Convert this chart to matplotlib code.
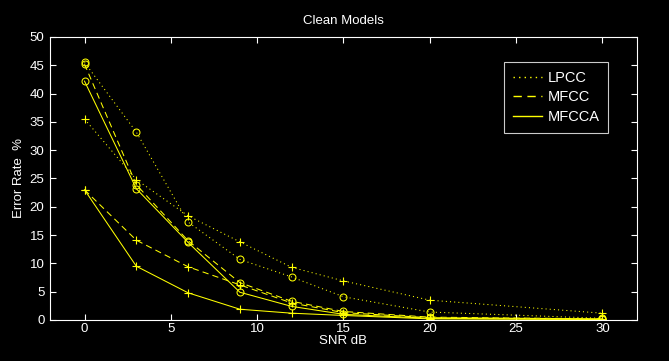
import numpy as np
import matplotlib
matplotlib.use("Agg")
import matplotlib.pyplot as plt
from matplotlib.lines import Line2D

# SNR points and error rates (%)
snr = [0, 3, 6, 9, 12, 15, 20, 30]
lpcc_o = [45.5, 33.2, 17.3, 10.7, 7.6, 4.1, 1.4, 0.3]
lpcc_p = [35.5, 24.8, 18.4, 13.8, 9.3, 6.9, 3.5, 1.2]
mfcc_o = [45.2, 23.9, 14.0, 6.6, 3.3, 1.5, 0.5, 0.2]
mfcc_p = [23.0, 14.1, 9.4, 6.2, 3.0, 1.3, 0.4, 0.2]
mfcca_o = [42.2, 23.2, 13.7, 4.9, 2.4, 1.0, 0.3, 0.1]
mfcca_p = [23.0, 9.5, 4.8, 1.9, 1.2, 0.8, 0.2, 0.1]

names = ["LPCC", "MFCC", "MFCCA"]
xticks = [0, 5, 10, 15, 20, 25, 30]
yticks = [0, 5, 10, 15, 20, 25, 30, 35, 40, 45, 50]

plt.rcParams['font.family'] = ['Liberation Sans', 'DejaVu Sans']
yel = "#ffff00"
dotted = (0, (1, 3))
dashed = (0, (6, 4))

fig = plt.figure(figsize=(6.69, 3.61), dpi=100, facecolor="black")
ax = fig.add_axes([0.0747, 0.1136, 0.8775, 0.784], facecolor="black")

styles = [dotted, dashed, "-"]
series = [(lpcc_o, lpcc_p), (mfcc_o, mfcc_p), (mfcca_o, mfcca_p)]
for ls, (so, sp) in zip(styles, series):
    ax.plot(snr, so, color=yel, ls=ls, lw=0.75, marker="o", ms=5,
            mfc="none", mew=0.75)
    ax.plot(snr, sp, color=yel, ls=ls, lw=0.75, marker="+", ms=6, mew=0.8)

ax.set_xlim(-2, 32)
ax.set_ylim(0, 50)
ax.set_xticks(xticks)
ax.set_yticks(yticks)
for s in ax.spines.values():
    s.set_color("white")
    s.set_linewidth(0.8)
ax.tick_params(direction="in", colors="white", labelsize=9.5, length=4,
               width=0.8, top=True, right=True, labeltop=False,
               labelright=False)
ax.tick_params(axis="x", pad=2)
ax.tick_params(axis="y", pad=4)

ax.set_title("Clean Models", color="white", fontsize=9.5, pad=9)
ax.set_xlabel("SNR dB", color="white", fontsize=9.5, labelpad=0.5)
ax.set_ylabel("Error Rate  %", color="white", fontsize=9.5, labelpad=3)

handles = [Line2D([], [], color=yel, ls=ls, lw=1.0) for ls in styles]
leg = ax.legend(handles, names, loc="upper right",
                bbox_to_anchor=(0.951, 0.912), fontsize=10.5,
                frameon=True, fancybox=False, facecolor="black",
                edgecolor="white", labelcolor="white", handlelength=2.0,
                borderpad=0.6, labelspacing=0.4, handletextpad=0.4,
                borderaxespad=0)
leg.get_frame().set_linewidth(0.8)

fig.savefig("out.png", dpi=100, facecolor="black")
